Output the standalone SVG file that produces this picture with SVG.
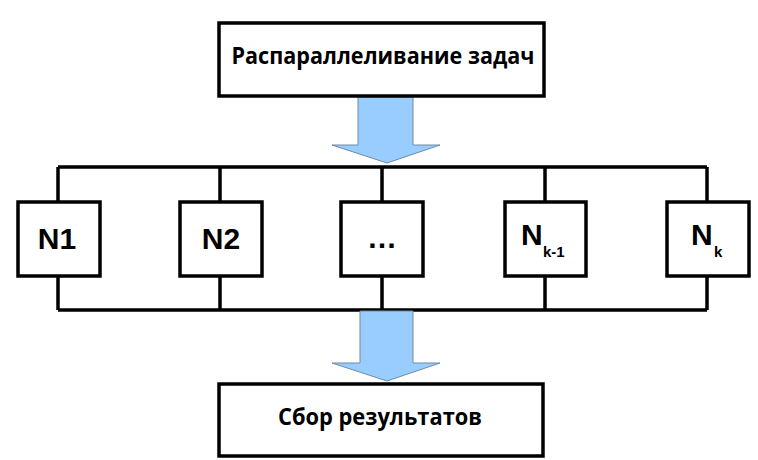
<svg xmlns="http://www.w3.org/2000/svg" width="758" height="460" viewBox="0 0 758 460">
<style>
.box{fill:#fff;stroke:#000;stroke-width:3.5}
.bus{fill:none;stroke:#000;stroke-width:3.5}
.arrow{fill:#99CCFF;stroke:#6f8ba6;stroke-width:1}
.ru{font-family:"Open Sans","Liberation Sans",sans-serif;font-weight:bold;font-size:23px;text-anchor:middle}
.n{font-family:"Liberation Sans",Arial,sans-serif;font-weight:bold;font-size:30px}
.sub{font-family:"Liberation Sans",Arial,sans-serif;font-weight:bold;font-size:15px}
</style>
<rect width="758" height="460" fill="#fff"/>
<g id="connectors">
<path class="bus" d="M58 167H707M58 167V202M220 167V202M382 167V202M545 167V202M707 167V202"/>
<path class="bus" d="M58 310H707M58 276V310M220 276V310M382 276V310M545 276V310M707 276V310"/>
<polygon class="arrow" points="358,96 413,96 413,145 440,145 387,163 332,145 358,145"/>
<polygon class="arrow" points="360,311 413,311 413,363 440,363 387,381 332,363 360,363"/>
</g>
<g id="top">
<rect class="box" x="219" y="23" width="325" height="73"/>
<text class="ru" x="383" y="64" textLength="303" lengthAdjust="spacingAndGlyphs">Распараллеливание задач</text>
</g>
<g id="n1">
<rect class="box" x="18" y="202" width="82" height="74"/>
<text class="n" x="57" y="249" text-anchor="middle">N1</text>
</g>
<g id="n2">
<rect class="box" x="180" y="202" width="82" height="74"/>
<text class="n" x="221" y="249" text-anchor="middle">N2</text>
</g>
<g id="dots">
<rect class="box" x="341" y="202" width="82" height="74"/>
<text class="n" x="382" y="248" text-anchor="middle" font-size="22" font-weight="normal">…</text>
</g>
<g id="nk1">
<rect class="box" x="505" y="202" width="81" height="74"/>
<text class="n" x="521" y="245">N</text>
<text class="sub" x="543" y="257">k-1</text>
</g>
<g id="nk">
<rect class="box" x="667" y="202" width="82" height="74"/>
<text class="n" x="691" y="245">N</text>
<text class="sub" x="714" y="257">k</text>
</g>
<g id="bottom">
<rect class="box" x="219" y="384" width="324" height="72"/>
<text class="ru" x="380" y="425" textLength="204" lengthAdjust="spacingAndGlyphs">Сбор результатов</text>
</g>
</svg>
